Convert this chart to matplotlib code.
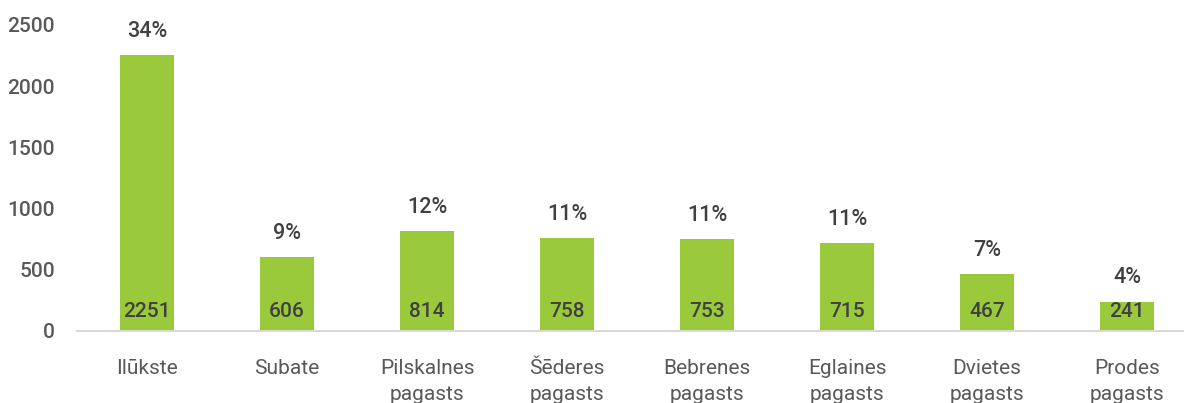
import numpy as np
import matplotlib
matplotlib.use("Agg")
import matplotlib.pyplot as plt

plt.rcParams['font.family'] = ['Roboto', 'DejaVu Sans']

kategorijas = ["Ilūkste", "Subate", "Pilskalnes\npagasts", "Šēderes\npagasts",
               "Bebrenes\npagasts", "Eglaines\npagasts", "Dvietes\npagasts", "Prodes\npagasts"]
vertibas = [2251, 606, 814, 758, 753, 715, 467, 241]
procenti = ["34%", "9%", "12%", "11%", "11%", "11%", "7%", "4%"]
y_ticks = [0, 500, 1000, 1500, 2000, 2500]

W, H = 1184, 403
fig = plt.figure(figsize=(W / 100, H / 100), dpi=100)
ax = fig.add_axes([77 / W, 72 / H, 1120 / W, (331 - 25) / H])

x = np.arange(len(kategorijas))
ax.bar(x, vertibas, width=0.39, color="#9BC93C", zorder=2)

ax.set_xlim(-0.5, len(kategorijas) - 0.5)
ax.set_ylim(0, 2500)
ax.set_yticks(y_ticks)
ax.set_yticklabels([str(t) for t in y_ticks], fontweight="medium")
ax.set_xticks(x)
ax.set_xticklabels(kategorijas, linespacing=1.45)

for s in ["top", "right", "left"]:
    ax.spines[s].set_visible(False)
ax.spines["bottom"].set_color("#D9D9D9")
ax.spines["bottom"].set_linewidth(1.5)
ax.tick_params(axis="both", length=0, labelsize=15, colors="#595959")
ax.tick_params(axis="x", pad=20)
ax.tick_params(axis="y", pad=16)

for i, v in enumerate(vertibas):
    ax.annotate(str(v), (i, 0), xytext=(0, 14), textcoords="offset points",
                ha="center", va="center", fontsize=15, color="#404040",
                fontweight="medium")
    ax.annotate(procenti[i], (i, v), xytext=(0, 17), textcoords="offset points",
                ha="center", va="center", fontsize=15.5, color="#404040",
                fontweight="medium", annotation_clip=False)

fig.savefig("out.png", dpi=100)
